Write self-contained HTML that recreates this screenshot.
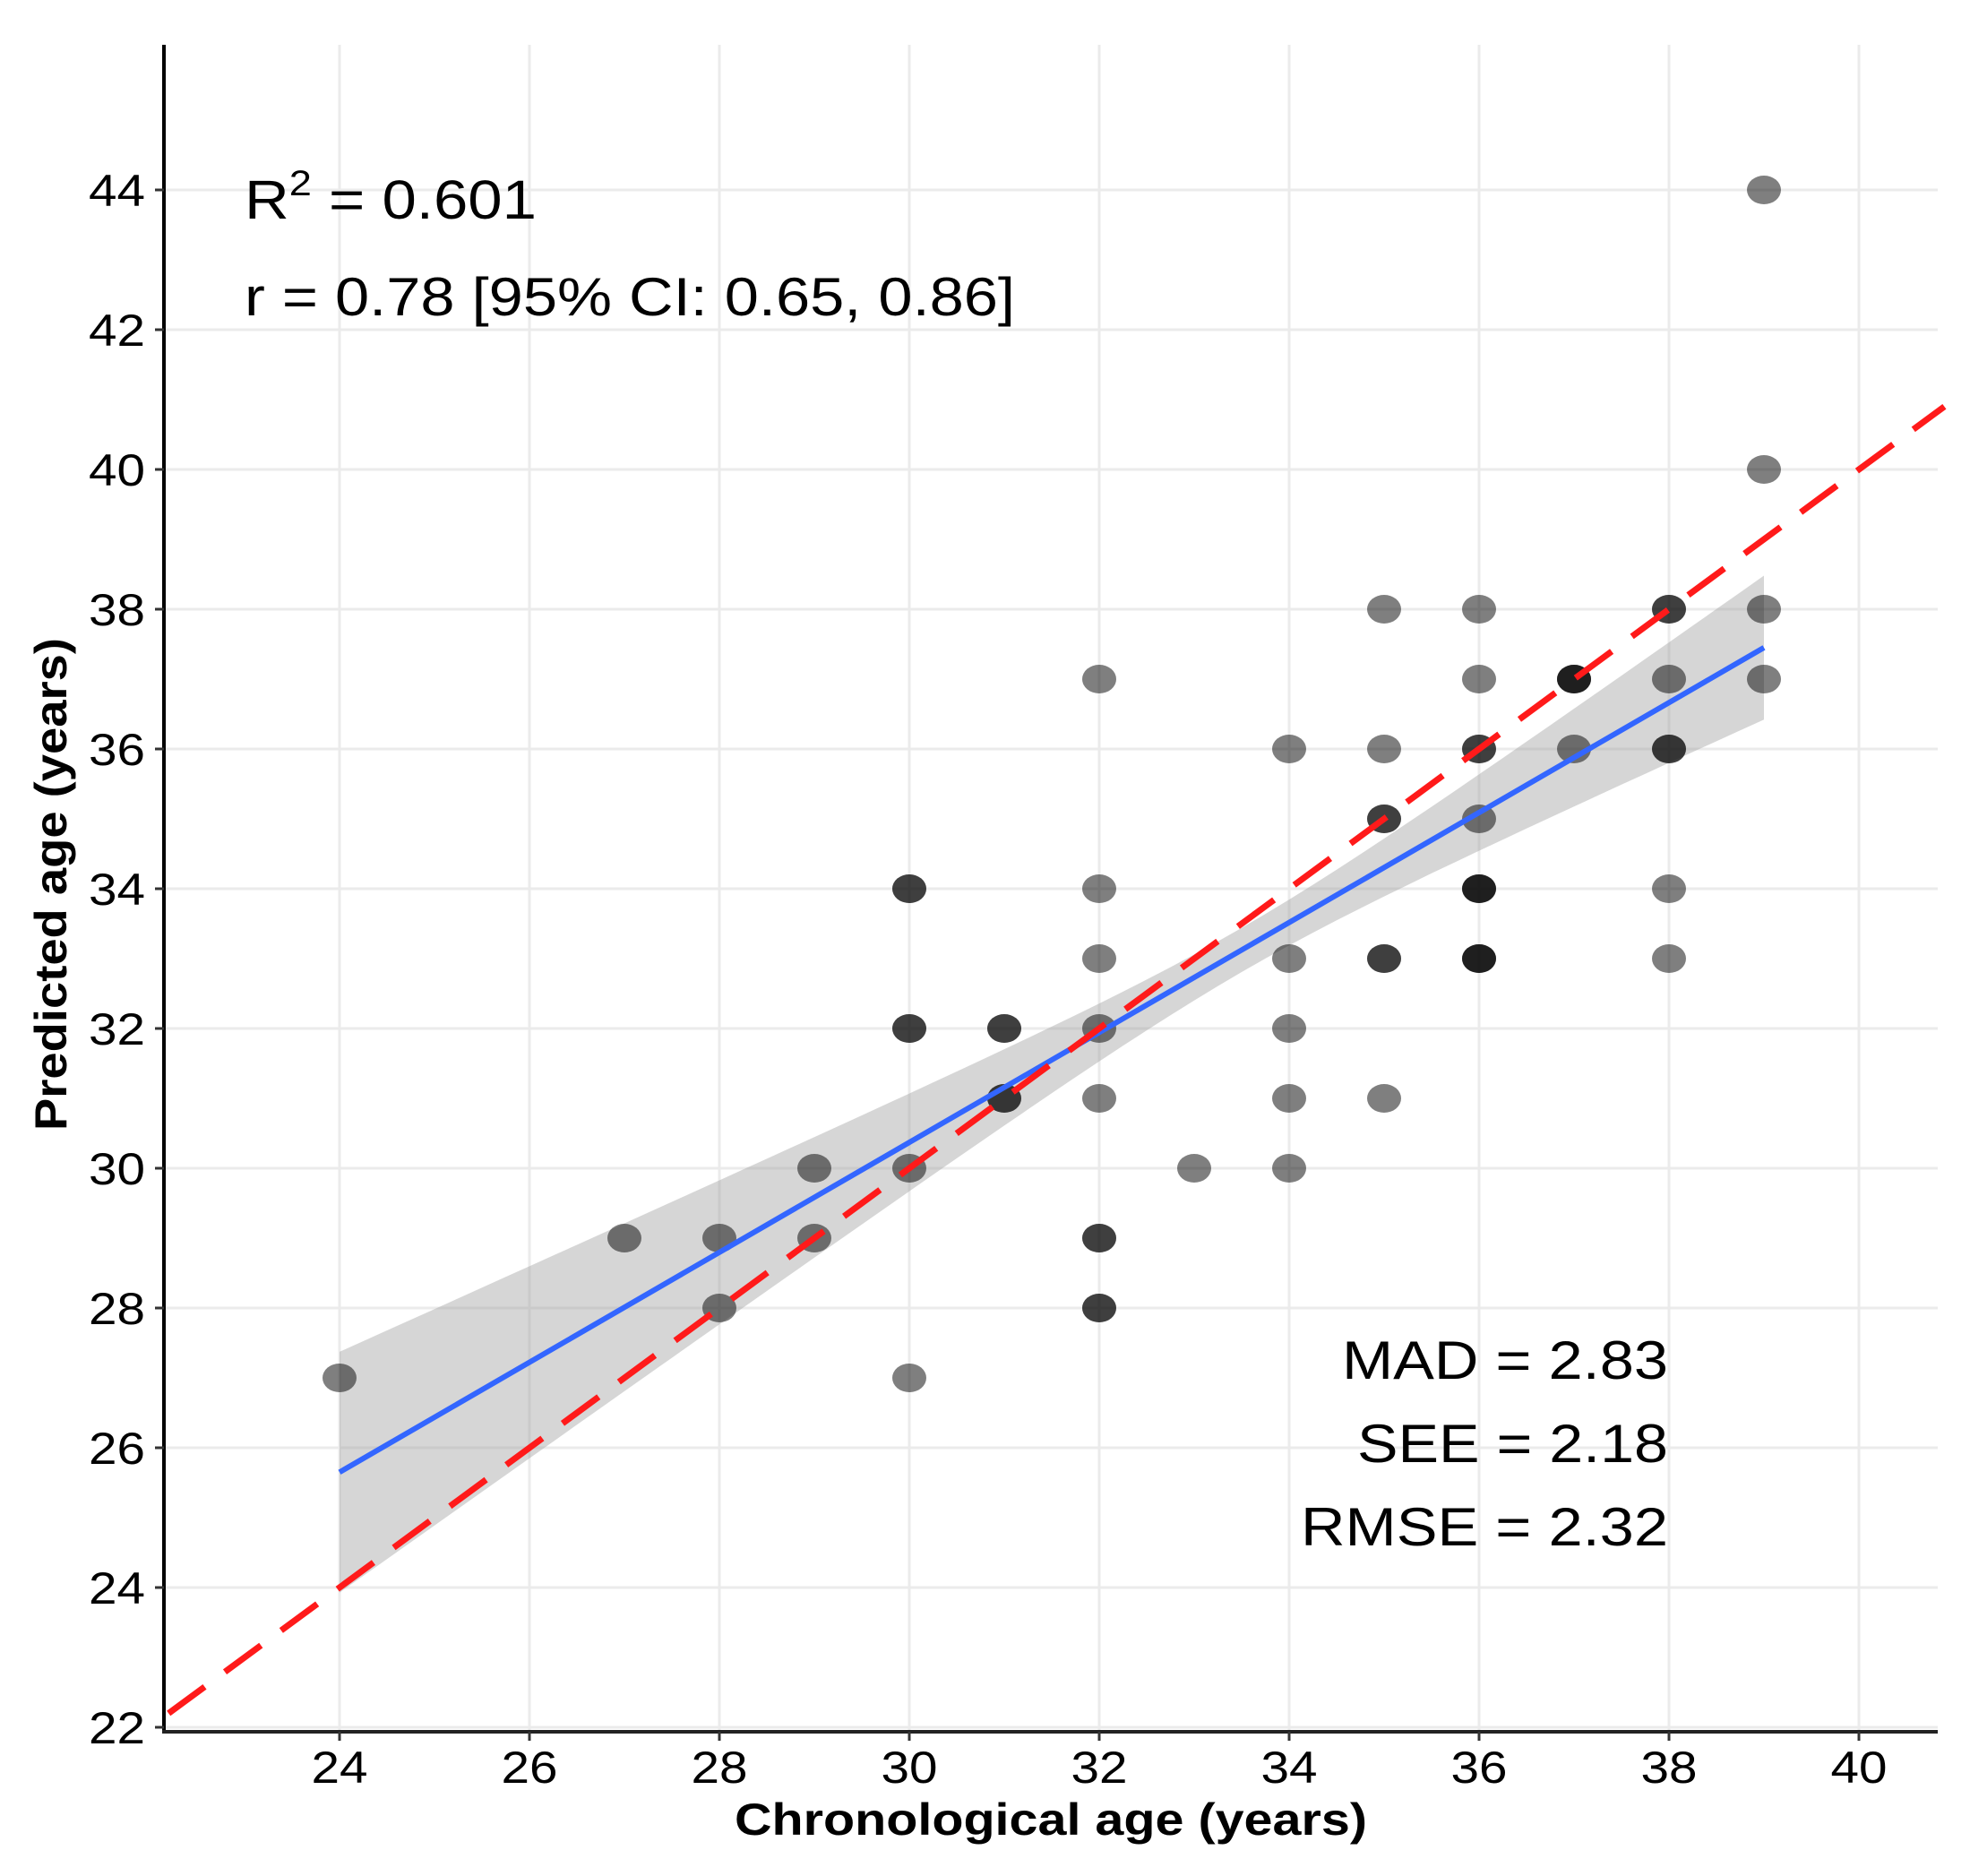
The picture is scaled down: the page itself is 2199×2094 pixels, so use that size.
<!DOCTYPE html>
<html><head><meta charset="utf-8"><style>
html,body{margin:0;padding:0;background:#fff}
svg{display:block}
text{font-family:"Liberation Sans",Arial,sans-serif}
</style></head><body>
<svg id="s" width="2199" height="2094" viewBox="0 0 2199 2094" xmlns="http://www.w3.org/2000/svg"></svg>
<script>
const s=document.getElementById('s');
const X=v=>379+(v-24)*106, Y=v=>212+(44-v)*78;
let h='';
const L=183,R=2163,T=50,B=1933;
for(let v=24;v<=40;v+=2)h+=`<line x1="${X(v)}" y1="${T}" x2="${X(v)}" y2="${B}" stroke="#ebebeb" stroke-width="3"/>`;
for(let v=22;v<=44;v+=2)h+=`<line x1="${L}" y1="${Y(v)}" x2="${R}" y2="${Y(v)}" stroke="#ebebeb" stroke-width="3"/>`;
const f=x=>25.65+(x-24)*(37.45-25.65)/15, se=x=>Math.sqrt(0.1+0.0318*(x-33.5)*(x-33.5));
let up=[],dn=[];
for(let x=24;x<=39.001;x+=0.25){up.push(`${X(x).toFixed(1)},${Y(f(x)+se(x)).toFixed(1)}`);dn.unshift(`${X(x).toFixed(1)},${Y(f(x)-se(x)).toFixed(1)}`);}
h+=`<polygon points="${up.concat(dn).join(' ')}" fill="#999" fill-opacity="0.4"/>`;
const P={24:[27],27:[29],28:[29,28],29:[30,29],30:[34,34,32,32,30,27],31:[32,32,31,31],32:[37,34,33,32,31,29,29,28,28],33:[30],34:[36,33,32,31,30],35:[38,36,35,35,33,33,31],36:[38,37,36,36,35,34,34,34,33,33,33],37:[37,37,37,36],38:[38,38,37,36,36,34,33],39:[44,40,38,37]};
for(const k in P)for(const v of P[k])h+=`<ellipse cx="${X(+k)}" cy="${Y(v)}" rx="19" ry="16" fill="#000" fill-opacity="0.5"/>`;
h+=`<line x1="${X(24)}" y1="${Y(25.65)}" x2="${X(39)}" y2="${Y(37.45)}" stroke="#3366FF" stroke-width="6"/>`;
h+=`<line x1="${X(22.2)}" y1="${Y(22.2)}" x2="${X(40.9)}" y2="${Y(40.9)}" stroke="#ff1a1a" stroke-width="7" stroke-dasharray="50 28"/>`;
h+=`<line x1="${L}" y1="${T}" x2="${L}" y2="${B+2}" stroke="#000" stroke-width="4"/>`;
h+=`<line x1="${L-2}" y1="${B}" x2="${R}" y2="${B}" stroke="#222" stroke-width="4"/>`;
const TL='textLength="63" lengthAdjust="spacingAndGlyphs"';
for(let v=24;v<=40;v+=2){h+=`<line x1="${X(v)}" y1="${B}" x2="${X(v)}" y2="${B+10}" stroke="#333" stroke-width="3"/><text x="${X(v)-31.5}" y="1990" font-size="50" ${TL}>${v}</text>`;}
for(let v=22;v<=44;v+=2){h+=`<line x1="${L-10}" y1="${Y(v)}" x2="${L}" y2="${Y(v)}" stroke="#333" stroke-width="3"/><text x="${162-63}" y="${Y(v)+18}" font-size="50" ${TL}>${v}</text>`;}
h+=`<text x="${1173-353}" y="2048" font-size="50" font-weight="bold" textLength="706" lengthAdjust="spacingAndGlyphs">Chronological age (years)</text>`;
h+=`<text transform="translate(74,${987+275}) rotate(-90)" font-size="50" font-weight="bold" textLength="550" lengthAdjust="spacingAndGlyphs">Predicted age (years)</text>`;
h+=`<g transform="translate(273,0) scale(1.13,1)"><text x="0" y="244" font-size="61">R<tspan font-size="40" dy="-26">2</tspan><tspan dy="26"> = 0.601</tspan></text></g>`;
h+=`<text x="273" y="352" font-size="60" textLength="860" lengthAdjust="spacingAndGlyphs">r = 0.78 [95% CI: 0.65, 0.86]</text>`;
h+=`<text x="${1862-364}" y="1539" font-size="60" textLength="364" lengthAdjust="spacingAndGlyphs">MAD = 2.83</text>`;
h+=`<text x="${1862-347}" y="1632" font-size="60" textLength="347" lengthAdjust="spacingAndGlyphs">SEE = 2.18</text>`;
h+=`<text x="${1862-410}" y="1725" font-size="60" textLength="410" lengthAdjust="spacingAndGlyphs">RMSE = 2.32</text>`;
s.innerHTML=h;
</script>
</body></html>
